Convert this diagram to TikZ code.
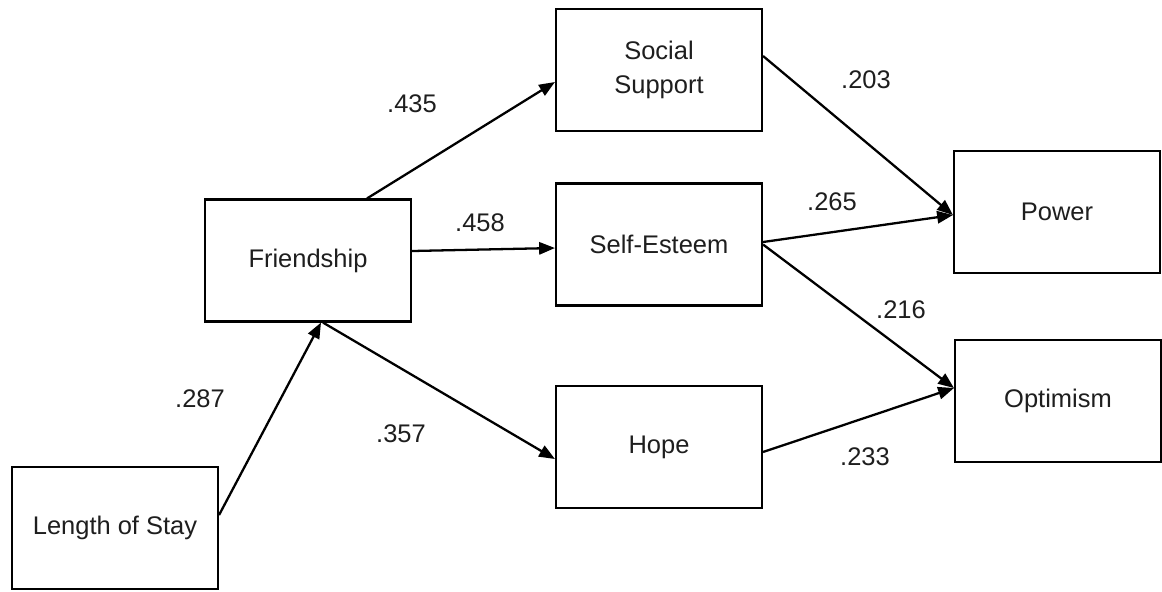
\documentclass[tikz,border=0pt]{standalone}
\usepackage{fontspec}
\setmainfont{Liberation Sans}
\usepackage{tikz}
\usetikzlibrary{calc}
\usetikzlibrary{arrows.meta}
\definecolor{inkgray}{HTML}{1E1E1E}
\tikzset{varbox/.style={draw, line width=1.2pt, minimum width=4.12cm, minimum height=2.44cm, align=center, text=inkgray, font=\fontsize{14.5}{19}\selectfont},
         pathArr/.style={line width=1.3pt, -{Triangle[length=9pt,width=7pt]}},
         coefLabel/.style={inner sep=0pt, text=inkgray, font=\fontsize{14.5}{17}\selectfont}}
\newcommand{\coef}[3]{\node[coefLabel] (#1) at (#2) {#3};}

\begin{document}
\begin{tikzpicture}
        \useasboundingbox (0,0) rectangle (23.24,-11.82);
        % exogenous
        \node[varbox] (stay) at ( 2.30 , -10.56 ){Length of Stay};
        \node[varbox] (friend) at ( 6.16 , -5.21 ){Friendship};
        % mediators
        \node[varbox] (social) at ( 13.18 , -1.40 ){Social\\Support};
        \node[varbox] (self) at ( 13.18 , -4.89 ){Self-Esteem};
        \node[varbox] (hope) at ( 13.18 , -8.94 ){Hope};
        % outcomes
        \node[varbox] (power) at ( 21.14 , -4.24 ){Power};
        \node[varbox] (optim) at ( 21.16 , -8.02 ){Optimism};

        % paths
        \draw[pathArr] ([yshift=0.26cm]stay.east) -- ([xshift=0.26cm]friend.south);
        \draw[pathArr] ([xshift=1.18cm]friend.north) -- ([yshift=-0.24cm]social.west);
        \draw[pathArr] ([yshift=0.19cm]friend.east) -- ([yshift=-0.07cm]self.west);
        \draw[pathArr] ([xshift=0.30cm]friend.south) -- ([yshift=-0.24cm]hope.west);
        \draw[pathArr] ([yshift=0.28cm]social.east) -- ([yshift=-0.06cm]power.west);
        \draw[pathArr] ([yshift=0.05cm]self.east) -- ([yshift=-0.06cm]power.west);
        \draw[pathArr] (self.east) -- ([yshift=0.26cm]optim.west);
        \draw[pathArr] ([yshift=-0.10cm]hope.east) -- ([yshift=0.26cm]optim.west);

        % text
        \coef{c435}{8.24,-2.08}{.435}
        \coef{c458}{9.60,-4.46}{.458}
        \coef{c287}{4.00,-7.98}{.287}
        \coef{c357}{8.02,-8.68}{.357}
        \coef{c203}{17.32,-1.60}{.203}
        \coef{c265}{16.64,-4.04}{.265}
        \coef{c216}{18.02,-6.20}{.216}
        \coef{c233}{17.30,-9.14}{.233}
    \end{tikzpicture}
\end{document}
